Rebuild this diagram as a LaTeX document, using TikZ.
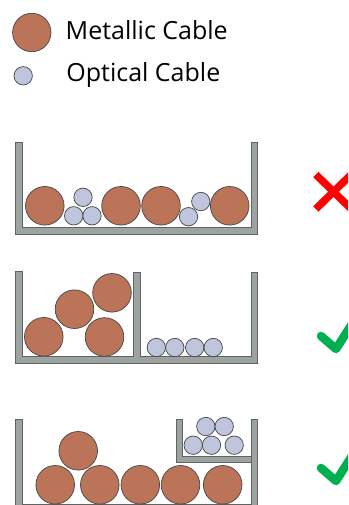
\documentclass[tikz,border=0pt]{standalone}
\usepackage{fontspec}
\setmainfont{Open Sans}
\definecolor{copper}{RGB}{187,116,88}
\definecolor{fibre}{RGB}{190,197,220}
\definecolor{trayfill}{RGB}{155,164,160}
\definecolor{edge}{RGB}{70,70,70}
\definecolor{okgreen}{RGB}{0,176,80}
\begin{document}
\begin{tikzpicture}[x=1pt,y=-1pt,
  metal/.style={circle,draw=edge,line width=0.7pt,fill=copper,minimum size=38.6pt,inner sep=0pt},
  optic/.style={circle,draw=edge,line width=0.7pt,fill=fibre,minimum size=18.4pt,inner sep=0pt},
  tray/.style={draw=edge!85,line width=0.7pt,fill=trayfill},
  legendtext/.style={anchor=base west,font=\fontsize{25}{30}\selectfont,inner sep=0pt},
  nomark/.style={red,line width=7.5pt},
  okmark/.style={okgreen,line width=8.5pt,line cap=round,line join=round}]
\useasboundingbox (0,0) rectangle (348,505);
\clip (0,0) rectangle (348,505);

% legend
\node[metal,minimum size=38.4pt] (legm) at (31.8,32.5) {};
\node[optic] (lego) at (23.2,75.8) {};
\node[legendtext] (legmt) at (65.5,40) {Metallic Cable};
\node[legendtext] (legot) at (66.2,81.5) {Optical Cable};

% tray 1: mixed cables in one channel
\draw[tray] (15.7,142.3) -- (15.7,234) -- (257.7,234) -- (257.7,142.3) -- (251,142.3)
  -- (251,227.3) -- (22,227.3) -- (22,142.3) -- cycle;
\node[metal] (a1) at (44.8,205.8) {};
\node[optic] (a2) at (83,197.3) {};
\node[optic] (a3) at (73.7,215.8) {};
\node[optic] (a4) at (92,215.8) {};
\node[metal] (a5) at (121,205.8) {};
\node[metal] (a6) at (161,205.8) {};
\node[optic] (a7) at (188.5,216.7) {};
\node[optic] (a8) at (200.8,201.5) {};
\node[metal] (a9) at (229.7,205.8) {};
\draw[nomark] (315.8,174.5) -- (351.2,209);
\draw[nomark] (315.8,209) -- (351.2,174.5);

% tray 2: divided channel
\draw[tray] (15.7,271.7) -- (15.7,363.3) -- (257.7,363.3) -- (257.7,272) -- (251.3,272)
  -- (251.3,356.7) -- (140,356.7) -- (140,272) -- (133.5,272) -- (133.5,356.7)
  -- (22,356.7) -- (22,271.7) -- cycle;
\node[metal] (b1) at (43.8,336.8) {};
\node[metal] (b2) at (74.5,309.2) {};
\node[metal] (b3) at (112,292.8) {};
\node[metal] (b4) at (104.5,337) {};
\node[optic] (b5) at (156.3,347.5) {};
\node[optic] (b6) at (174.8,347.5) {};
\node[optic] (b7) at (194.7,347.5) {};
\node[optic] (b8) at (213.2,347.5) {};
\draw[okmark] (321,336) -- (336,349) -- (357,316);

% tray 3: channel with raised inner tray
\draw[tray] (15.7,419) -- (15.7,510.5) -- (257.5,510.5) -- (257.5,419) -- (251,419)
  -- (251,504) -- (22,504) -- (22,419) -- cycle;
\draw[tray] (176.3,419) -- (176.3,462) -- (251,462) -- (251,456) -- (182.7,456)
  -- (182.7,419) -- cycle;
\node[metal] (c1) at (55.2,484.8) {};
\node[metal] (c2) at (99.8,484.8) {};
\node[metal] (c3) at (140.3,484.8) {};
\node[metal] (c4) at (180.5,484.8) {};
\node[metal] (c5) at (222.7,484.8) {};
\node[metal] (c6) at (78.2,450.8) {};
\node[optic] (c7) at (205.8,426.5) {};
\node[optic] (c8) at (224.2,426.5) {};
\node[optic] (c9) at (193.2,445.2) {};
\node[optic] (c10) at (211.5,445.2) {};
\node[optic] (c11) at (234.2,445.2) {};
\draw[okmark] (321,468) -- (336,481) -- (357,448);
\end{tikzpicture}
\end{document}
